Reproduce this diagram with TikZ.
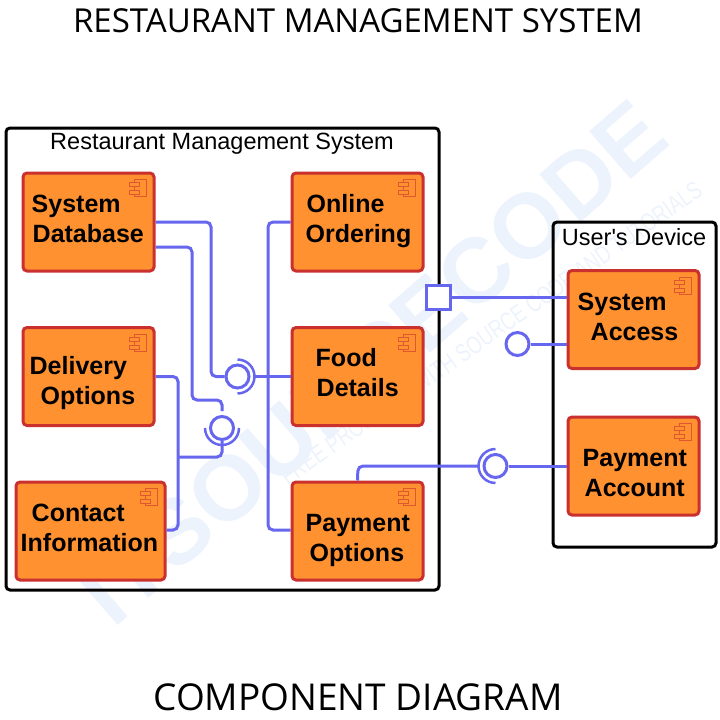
\documentclass[tikz,border=0pt]{standalone}
\usepackage{fontspec}
\setmainfont{Liberation Sans}
\newfontfamily\titlefont{Open Sans}
\newfontfamily\plainfont{Liberation Sans}
\usetikzlibrary{calc}
\definecolor{lineblue}{HTML}{6666EE}
\definecolor{compfill}{HTML}{FF9130}
\definecolor{compedge}{HTML}{C9302E}
\definecolor{wmark}{HTML}{EDF3FC}
\tikzset{
  comp/.style={draw=compedge,fill=compfill,line width=3pt,rounded corners=4pt,inner sep=0pt,minimum height=98pt,minimum width=131pt},
  lab/.style={anchor=west,align=left,inner sep=0pt,yshift=-1pt,xshift=0.5pt,font=\fontsize{25}{30}\selectfont\bfseries},
  cont/.style={draw=black,fill=none,line width=3pt,rounded corners=4pt},
  conn/.style={draw=lineblue,line width=3pt,rounded corners=5pt},
  ball/.style={circle,draw=lineblue,fill=white,line width=3pt,minimum size=23pt,inner sep=0pt},
  sock/.style={draw=lineblue,line width=2.5pt},
  port/.style={draw=lineblue,fill=white,line width=3pt,minimum size=24pt,inner sep=0pt},
  icon/.style={draw=compedge!60!compfill,line width=0.8pt}
}
\newcommand{\compicon}[1]{%
  \draw[icon] ($(#1.north east)+(-21,8)$) rectangle ($(#1.north east)+(-9,25)$);
  \draw[icon,fill=compfill] ($(#1.north east)+(-26,11)$) rectangle ($(#1.north east)+(-16,15)$);
  \draw[icon,fill=compfill] ($(#1.north east)+(-26,19)$) rectangle ($(#1.north east)+(-16,23)$);
}
\begin{document}
\begin{tikzpicture}[x=1pt,y=-1pt]
\useasboundingbox (0,0) rectangle (720,720);
\node[rotate=41,text=wmark,font=\fontsize{92}{92}\selectfont\bfseries,inner sep=0pt] (wmone) at (372,362) {ITSOURCECODE};
\node[rotate=35,xscale=.75,transform shape,text=wmark,font=\fontsize{25}{25}\selectfont,inner sep=0pt] (wmtwo) at (491,333) {FREE PROJECTS WITH SOURCE CODE AND TUTORIALS};
\node[font=\titlefont\fontsize{33}{38}\selectfont,inner sep=0pt] (title) at (358,21) {RESTAURANT MANAGEMENT SYSTEM};
\node[font=\titlefont\fontsize{37}{42}\selectfont,inner sep=0pt] (subtitle) at (358,697) {COMPONENT DIAGRAM};
\node[cont,minimum width=433pt,minimum height=462pt] (rms) at (222.5,359) {};
\node[cont,minimum width=163pt,minimum height=325pt] (dev) at (634.5,384.5) {};
\node[font=\plainfont\fontsize{23.5}{28}\selectfont,inner sep=0pt] (rmslabel) at (222,143.5) {Restaurant Management System};
\node[font=\plainfont\fontsize{23.5}{28}\selectfont,inner sep=0pt] (devlabel) at (634,237) {User's Device};
\node[comp] (db) at (88.5,222) {};
\node[comp] (del) at (88.5,376.5) {};
\node[comp,minimum width=149pt] (con) at (90.5,531) {};
\node[comp] (onl) at (357.5,222) {};
\node[comp] (food) at (357.5,376.5) {};
\node[comp] (pay) at (357.5,531) {};
\node[comp] (acc) at (633.5,319.5) {};
\node[comp] (pac) at (633.5,466) {};
\foreach \n in {db,del,con,onl,food,pay,acc,pac}{\compicon{\n}}
\node[lab] (tdb) at (31,220.5) {\strut System\\\strut\hspace*{1pt}Database};
\node[lab] (tdel) at (29,382) {\strut Delivery\\\strut\hspace*{11pt}Options};
\node[lab] (tcon) at (20,529.5) {\strut\hspace*{11pt}Contact\\\strut Information};
\node[lab] (tonl) at (305,220.5) {\strut\hspace*{1pt}Online\\\strut Ordering};
\node[lab] (tfood) at (315,374.5) {\strut Food\\\strut\hspace*{1pt}Details};
\node[lab] (tpay) at (305,539.5) {\strut Payment\\\strut\hspace*{4pt}Options};
\node[lab] (tacc) at (577,318) {\strut System\\\strut\hspace*{13pt}Access};
\node[lab] (tpac) at (582,474.5) {\strut Payment\\\strut\hspace*{2pt}Account};
% balls
\node[ball] (b1) at (237.5,376.5) {};
\node[ball] (b2) at (222,428) {};
\node[ball] (b3) at (495.5,466) {};
\node[ball] (b4) at (517.5,344) {};
\node[port] (sq) at (438,297) {};
% connectors
\coordinate (s1) at (254,376.5);
\coordinate (s2) at (222,411);
\coordinate (s3) at (479,466);
\draw[conn] (db.east |- 0,222) -- (211,222) -- (211,376.5) -- (b1.west);
\draw[conn] (food.west) -- (s1);
\draw[conn] (db.east |- 0,247) -- (192,247) -- (192,400) -- (222,400) -- (s2);
\draw[conn] (del.east) -- (178,376.5) -- (178,530) -- (con.east |- 0,530);
\draw[conn] (178,457) -- (222,457) -- (b2.south);
\draw[conn] (onl.west) -- (268,222) -- (268,530) -- (pay.west |- 0,530);
\draw[conn] (pay.north) -- (358,466) -- (s3);
\draw[conn] (b3.east) -- (pac.west);
\draw[conn] (b4.east) -- (acc.west |- b4);
\draw[conn] (sq.east) -- (acc.west |- sq);
% sockets
\draw[sock] ($(b1)+(0,-17)$) arc[start angle=-90,end angle=90,radius=17];
\draw[sock] ($(b2)+(-17,0)$) arc[start angle=180,end angle=0,radius=17];
\draw[sock] ($(b3)+(0,-17)$) arc[start angle=270,end angle=90,radius=17];
\end{tikzpicture}
\end{document}
